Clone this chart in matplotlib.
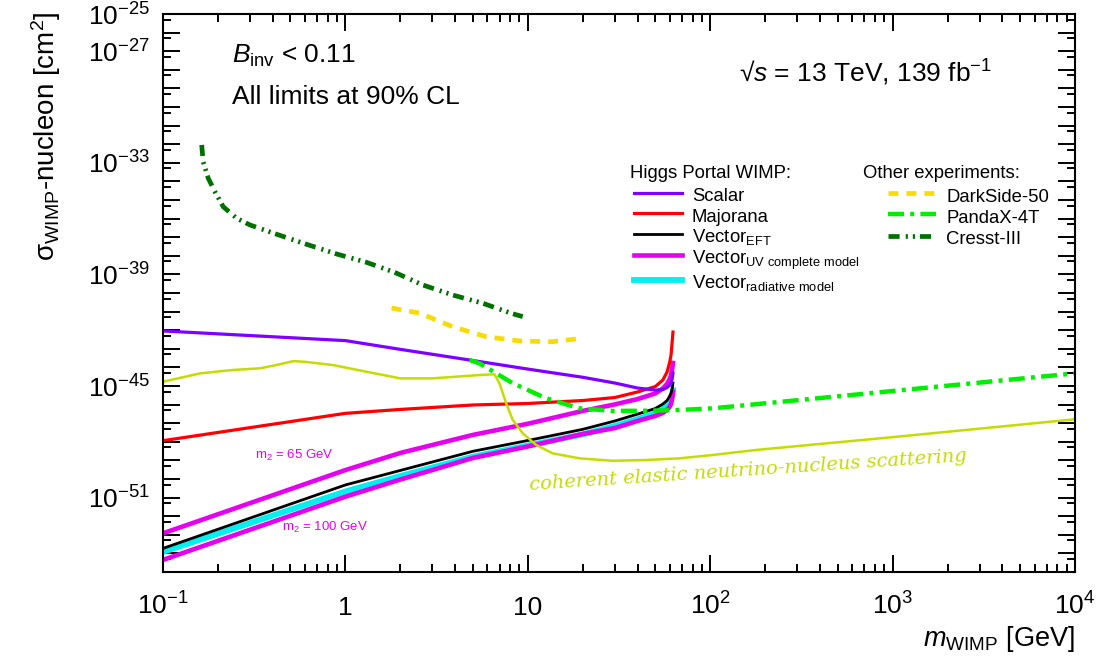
import numpy as np
import matplotlib.pyplot as plt
from matplotlib.ticker import FixedLocator, LogLocator, FuncFormatter, NullFormatter

plt.rcParams['font.family'] = ['Liberation Sans', 'DejaVu Sans']
plt.rcParams['mathtext.fontset'] = 'custom'
plt.rcParams['mathtext.rm'] = 'Liberation Sans'
plt.rcParams['mathtext.it'] = 'Liberation Sans:italic'
plt.rcParams['mathtext.bf'] = 'Liberation Sans:bold'

# Higgs portal WIMP limits: mass [GeV] and log10(sigma / cm^2)
higgs_mass = [0.1, 1, 2, 5, 10, 20, 30, 40, 50, 55, 58, 60, 61, 62, 62.5]
scalar_lg = [-42.04, -42.56, -43.03, -43.63, -44.09, -44.53, -44.84, -45.11,
             -45.22, -45.19, -45.08, -44.95, -44.84, -44.57, -44.30]
majorana_lg = [-47.94, -46.47, -46.26, -46.02, -45.94, -45.78, -45.62, -45.32,
               -45.03, -44.68, -44.25, -43.71, -43.33, -42.53, -42.10]
eft_lg = [-53.73, -50.32, -49.54, -48.51, -47.93, -47.33, -46.88, -46.51,
          -46.21, -45.97, -45.78, -45.54, -45.38, -45.11, -44.84]
radiative_lg = [-53.92, -50.67, -49.84, -48.80, -48.20, -47.60, -47.15, -46.78,
                -46.47, -46.25, -46.05, -45.82, -45.66, -45.42, -45.22]
uv65_lg = [-52.92, -49.52, -48.60, -47.63, -47.03, -46.34, -45.99, -45.70,
           -45.40, -45.13, -44.89, -44.62, -44.41, -44.03, -43.76]
uv100_lg = [-54.35, -50.95, -50.03, -48.87, -48.25, -47.58, -47.26, -46.88,
            -46.61, -46.45, -46.29, -46.10, -45.97, -45.65, -45.32]

# other experiments
nu_mass = [0.1, 0.16, 0.24, 0.34, 0.42, 0.52, 0.6, 0.85, 1.3, 2.0, 3.0, 5.43,
           6.56, 6.99, 7.61, 8.27, 9.38, 11.1, 13.7, 19.2, 29.1, 44.4, 67.6,
           103, 178, 1000, 10000]
nu_lg = [-44.77, -44.32, -44.14, -44.05, -43.87, -43.66, -43.70, -43.87, -44.23,
         -44.59, -44.59, -44.41, -44.37, -44.85, -45.93, -46.83, -47.54, -48.17,
         -48.62, -48.89, -49.02, -48.98, -48.89, -48.71, -48.44, -47.75, -46.79]
ds_mass = [1.79, 2.55, 3.87, 5.93, 9.0, 13.6, 19.7]
ds_lg = [-40.81, -41.08, -41.81, -42.35, -42.58, -42.62, -42.44]
pandax_mass = [4.79, 5.43, 8.27, 12.6, 19.2, 29.1, 44.4, 67.6, 103, 178, 1000, 10000]
pandax_lg = [-43.60, -43.78, -44.85, -45.66, -46.20, -46.34, -46.33, -46.29,
             -46.20, -45.98, -45.27, -44.32]
cresst_mass = [0.163, 0.166, 0.177, 0.1926, 0.2138, 0.2532, 0.2994, 0.419,
               0.6116, 0.893, 1.303, 1.862, 2.66, 3.88, 5.66, 8.10, 9.38]
cresst_lg = [-32.04, -32.94, -33.83, -34.55, -35.36, -35.98, -36.34, -36.84,
             -37.38, -37.90, -38.35, -38.89, -39.57, -40.11, -40.55, -41.09, -41.27]

ylabel_exps = [-25, -27, -33, -39, -45, -51]
xtick_text = {0.1: '$10^{-1}$', 1: '1', 10: '10', 100: '$10^{2}$',
              1000: '$10^{3}$', 10000: '$10^{4}$'}

c_scalar = '#7f00ff'
c_maj = '#ff0000'
c_uv = '#e600f0'
c_rad = '#00f0f0'
c_nu = '#c4dc00'
c_ds = '#f8dc00'
c_pandax = '#00ee00'
c_cresst = '#007000'

fig = plt.figure(figsize=(10.96, 6.71), dpi=100)
ax = fig.add_axes([163 / 1096, 1 - 572 / 671, 912 / 1096, 558 / 671])
ax.set_xscale('log')
ax.set_yscale('log')
ax.set_xlim(0.1, 1e4)
ax.set_ylim(1e-55, 1e-25)

def sig(v):
    return 10.0 ** np.array(v)

l_rad, = ax.plot(higgs_mass, sig(radiative_lg), color=c_rad, lw=4.2,
                 label='Vector$_{\\mathrm{radiative\\ model}}$')
l_uv, = ax.plot(higgs_mass, sig(uv65_lg), color=c_uv, lw=3.3,
                label='Vector$_{\\mathrm{UV\\ complete\\ model}}$')
ax.plot(higgs_mass, sig(uv100_lg), color=c_uv, lw=3.3)
l_eft, = ax.plot(higgs_mass, sig(eft_lg), color='black', lw=2.0,
                 label='Vector$_{\\mathrm{EFT}}$')
l_maj, = ax.plot(higgs_mass, sig(majorana_lg), color=c_maj, lw=2.3, label='Majorana')
l_sc, = ax.plot(higgs_mass, sig(scalar_lg), color=c_scalar, lw=2.3, label='Scalar')

ax.plot(nu_mass, sig(nu_lg), color=c_nu, lw=1.8)
l_ds, = ax.plot(ds_mass, sig(ds_lg), color=c_ds, lw=3.4, dashes=(2.1, 1.7),
                label='DarkSide-50')
l_px, = ax.plot(pandax_mass, sig(pandax_lg), color=c_pandax, lw=3.2,
                dashes=(3.6, 1.4, 0.9, 1.4), label='PandaX-4T')
l_cr, = ax.plot(cresst_mass, sig(cresst_lg), color=c_cresst, lw=3.4,
                dashes=(2.35, 1.3, 0.45, 1.05, 0.45, 1.05), label='Cresst-III')

# axes ticks
ax.xaxis.set_major_locator(FixedLocator(list(xtick_text.keys())))
ax.xaxis.set_minor_locator(LogLocator(base=10, subs=np.arange(2, 10), numticks=20))
ax.xaxis.set_major_formatter(FuncFormatter(lambda v, p: xtick_text.get(round(v, 6), '')))
ax.xaxis.set_minor_formatter(NullFormatter())
ax.yaxis.set_major_locator(FixedLocator([10.0 ** e for e in range(-55, -24)]))
ax.yaxis.set_minor_locator(FixedLocator([5 * 10.0 ** e for e in range(-56, -25)]))
ax.yaxis.set_major_formatter(FuncFormatter(
    lambda v, p: '$10^{%d}$' % round(np.log10(v)) if round(np.log10(v)) in ylabel_exps else ''))
ax.yaxis.set_minor_formatter(NullFormatter())
ax.tick_params(which='both', direction='in', top=True, right=True, width=1.4,
               labelsize=19, color='black')
ax.tick_params(which='major', length=12)
ax.tick_params(which='minor', length=6)
ax.tick_params(axis='y', pad=9)
ax.tick_params(axis='x', pad=31)
for t in ax.get_xticklabels():
    t.set_va('baseline')
for s in ax.spines.values():
    s.set_linewidth(1.5)

ax.set_xlabel('$m_{\\mathrm{WIMP}}$ [GeV]', fontsize=19.5, loc='right')
ax.xaxis.set_label_coords(1.0, -0.093)
ax.set_ylabel('σ$_{\\mathrm{WIMP}}$-nucleon [cm$^{2}$]', fontsize=20, loc='top')
ax.yaxis.set_label_coords(-0.11, 1.005)

# annotations
ax.text(0.0757, 0.9127, '$B_{\\mathrm{inv}}$ < 0.11', transform=ax.transAxes,
        fontsize=19, va='baseline')
ax.text(0.0757, 0.8387, 'All limits at 90% CL', transform=ax.transAxes,
        fontsize=19, va='baseline')
ax.text(0.909, 0.8787, '√$s$ = 13 TeV, 139 fb$^{\\mathrm{-1}}$', transform=ax.transAxes,
        fontsize=19, va='baseline', ha='right')
ax.text(0.101, 0.2097, 'm$_{2}$ = 65 GeV', transform=ax.transAxes,
        fontsize=9.5, color=c_uv, va='center')
ax.text(0.1305, 0.0806, 'm$_{2}$ = 100 GeV', transform=ax.transAxes,
        fontsize=9.5, color=c_uv, va='center')
ax.text(0.4024, 0.147, 'coherent elastic neutrino-nucleus scattering',
        transform=ax.transAxes, family='DejaVu Serif', style='italic',
        fontsize=14, color=c_nu, rotation=3.8, rotation_mode='anchor',
        va='baseline', ha='left')

# legends, with their headers as separate texts
ax.text(0.512, 0.706, 'Higgs Portal WIMP:', transform=ax.transAxes,
        fontsize=13.3, va='baseline')
ax.text(0.7675, 0.706, 'Other experiments:', transform=ax.transAxes,
        fontsize=13.3, va='baseline')
leg_kw = dict(frameon=False, fontsize=13.3, handlelength=2.6, handletextpad=0.55,
              labelspacing=0.0, borderpad=0, borderaxespad=0, loc='upper left')
leg1 = ax.legend(handles=[l_sc, l_maj, l_eft, l_uv, l_rad], handleheight=1.33,
                 bbox_to_anchor=(0.516, 0.694), **leg_kw)
ax.add_artist(leg1)
ax.legend(handles=[l_ds, l_px, l_cr], handleheight=1.4,
          bbox_to_anchor=(0.795, 0.694), **leg_kw)

fig.savefig('out.png', dpi=100)
